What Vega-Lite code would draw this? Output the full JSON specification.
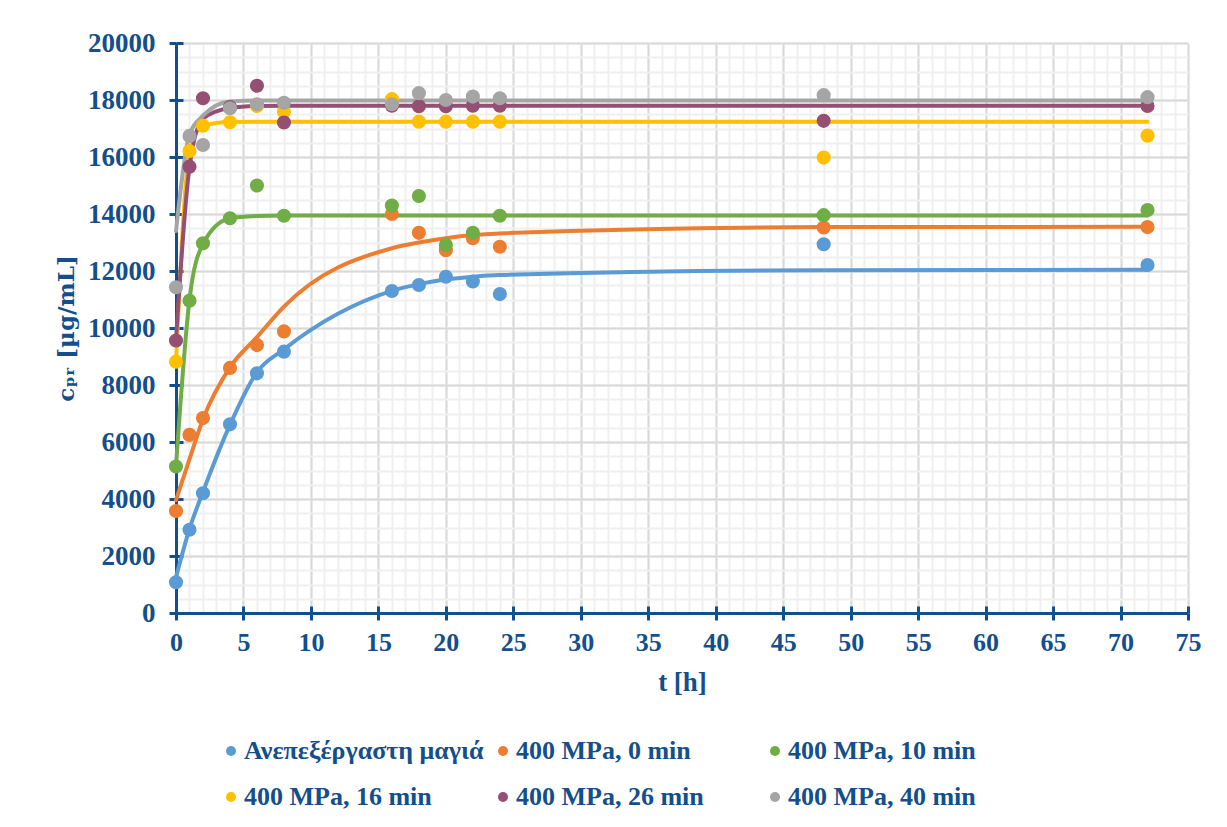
{
  "$schema": "https://vega.github.io/schema/vega-lite/v6.json",
  "width": 1012,
  "height": 570,
  "autosize": {"type": "none"},
  "padding": {"left": 176, "top": 43, "right": 39, "bottom": 214},
  "background": "white",
  "config": {"view": {"stroke": null}, "font": "Liberation Serif"},
  "datasets": {
    "obs": [
      {"s": "Ανεπεξέργαστη μαγιά", "t": 0, "c": 1080}, {"s": "Ανεπεξέργαστη μαγιά", "t": 1, "c": 2920}, {"s": "Ανεπεξέργαστη μαγιά", "t": 2, "c": 4200}, {"s": "Ανεπεξέργαστη μαγιά", "t": 4, "c": 6620}, {"s": "Ανεπεξέργαστη μαγιά", "t": 6, "c": 8410}, {"s": "Ανεπεξέργαστη μαγιά", "t": 8, "c": 9170}, {"s": "Ανεπεξέργαστη μαγιά", "t": 16, "c": 11300}, {"s": "Ανεπεξέργαστη μαγιά", "t": 18, "c": 11510}, {"s": "Ανεπεξέργαστη μαγιά", "t": 20, "c": 11800}, {"s": "Ανεπεξέργαστη μαγιά", "t": 22, "c": 11630}, {"s": "Ανεπεξέργαστη μαγιά", "t": 24, "c": 11190}, {"s": "Ανεπεξέργαστη μαγιά", "t": 48, "c": 12940}, {"s": "Ανεπεξέργαστη μαγιά", "t": 72, "c": 12210},
      {"s": "400 MPa, 0 min", "t": 0, "c": 3580}, {"s": "400 MPa, 0 min", "t": 1, "c": 6250}, {"s": "400 MPa, 0 min", "t": 2, "c": 6840}, {"s": "400 MPa, 0 min", "t": 4, "c": 8600}, {"s": "400 MPa, 0 min", "t": 6, "c": 9400}, {"s": "400 MPa, 0 min", "t": 8, "c": 9880}, {"s": "400 MPa, 0 min", "t": 16, "c": 14000}, {"s": "400 MPa, 0 min", "t": 18, "c": 13340}, {"s": "400 MPa, 0 min", "t": 20, "c": 12730}, {"s": "400 MPa, 0 min", "t": 22, "c": 13150}, {"s": "400 MPa, 0 min", "t": 24, "c": 12850}, {"s": "400 MPa, 0 min", "t": 48, "c": 13530}, {"s": "400 MPa, 0 min", "t": 72, "c": 13540},
      {"s": "400 MPa, 10 min", "t": 0, "c": 5140}, {"s": "400 MPa, 10 min", "t": 1, "c": 10960}, {"s": "400 MPa, 10 min", "t": 2, "c": 12970}, {"s": "400 MPa, 10 min", "t": 4, "c": 13850}, {"s": "400 MPa, 10 min", "t": 6, "c": 15000}, {"s": "400 MPa, 10 min", "t": 8, "c": 13940}, {"s": "400 MPa, 10 min", "t": 16, "c": 14300}, {"s": "400 MPa, 10 min", "t": 18, "c": 14630}, {"s": "400 MPa, 10 min", "t": 20, "c": 12910}, {"s": "400 MPa, 10 min", "t": 22, "c": 13340}, {"s": "400 MPa, 10 min", "t": 24, "c": 13940}, {"s": "400 MPa, 10 min", "t": 48, "c": 13960}, {"s": "400 MPa, 10 min", "t": 72, "c": 14140},
      {"s": "400 MPa, 16 min", "t": 0, "c": 8820}, {"s": "400 MPa, 16 min", "t": 1, "c": 16210}, {"s": "400 MPa, 16 min", "t": 2, "c": 17100}, {"s": "400 MPa, 16 min", "t": 4, "c": 17220}, {"s": "400 MPa, 16 min", "t": 6, "c": 17790}, {"s": "400 MPa, 16 min", "t": 8, "c": 17590}, {"s": "400 MPa, 16 min", "t": 16, "c": 18030}, {"s": "400 MPa, 16 min", "t": 18, "c": 17240}, {"s": "400 MPa, 16 min", "t": 20, "c": 17240}, {"s": "400 MPa, 16 min", "t": 22, "c": 17240}, {"s": "400 MPa, 16 min", "t": 24, "c": 17240}, {"s": "400 MPa, 16 min", "t": 48, "c": 15980}, {"s": "400 MPa, 16 min", "t": 72, "c": 16750},
      {"s": "400 MPa, 26 min", "t": 0, "c": 9560}, {"s": "400 MPa, 26 min", "t": 1, "c": 15660}, {"s": "400 MPa, 26 min", "t": 2, "c": 18060}, {"s": "400 MPa, 26 min", "t": 4, "c": 17750}, {"s": "400 MPa, 26 min", "t": 6, "c": 18500}, {"s": "400 MPa, 26 min", "t": 8, "c": 17210}, {"s": "400 MPa, 26 min", "t": 16, "c": 17800}, {"s": "400 MPa, 26 min", "t": 18, "c": 17780}, {"s": "400 MPa, 26 min", "t": 20, "c": 17780}, {"s": "400 MPa, 26 min", "t": 22, "c": 17800}, {"s": "400 MPa, 26 min", "t": 24, "c": 17800}, {"s": "400 MPa, 26 min", "t": 48, "c": 17270}, {"s": "400 MPa, 26 min", "t": 72, "c": 17790},
      {"s": "400 MPa, 40 min", "t": 0, "c": 11430}, {"s": "400 MPa, 40 min", "t": 1, "c": 16740}, {"s": "400 MPa, 40 min", "t": 2, "c": 16420}, {"s": "400 MPa, 40 min", "t": 4, "c": 17710}, {"s": "400 MPa, 40 min", "t": 6, "c": 17850}, {"s": "400 MPa, 40 min", "t": 8, "c": 17900}, {"s": "400 MPa, 40 min", "t": 16, "c": 17850}, {"s": "400 MPa, 40 min", "t": 18, "c": 18240}, {"s": "400 MPa, 40 min", "t": 20, "c": 18000}, {"s": "400 MPa, 40 min", "t": 22, "c": 18120}, {"s": "400 MPa, 40 min", "t": 24, "c": 18060}, {"s": "400 MPa, 40 min", "t": 48, "c": 18170}, {"s": "400 MPa, 40 min", "t": 72, "c": 18100}
    ],
    "fit": [
      {"s": "Ανεπεξέργαστη μαγιά", "t": 0, "c": 1250}, {"s": "Ανεπεξέργαστη μαγιά", "t": 1, "c": 2950}, {"s": "Ανεπεξέργαστη μαγιά", "t": 2, "c": 4250}, {"s": "Ανεπεξέργαστη μαγιά", "t": 4, "c": 6600}, {"s": "Ανεπεξέργαστη μαγιά", "t": 6, "c": 8450}, {"s": "Ανεπεξέργαστη μαγιά", "t": 8, "c": 9250}, {"s": "Ανεπεξέργαστη μαγιά", "t": 16, "c": 11300}, {"s": "Ανεπεξέργαστη μαγιά", "t": 18, "c": 11540}, {"s": "Ανεπεξέργαστη μαγιά", "t": 20, "c": 11700}, {"s": "Ανεπεξέργαστη μαγιά", "t": 22, "c": 11800}, {"s": "Ανεπεξέργαστη μαγιά", "t": 24, "c": 11860}, {"s": "Ανεπεξέργαστη μαγιά", "t": 48, "c": 12030}, {"s": "Ανεπεξέργαστη μαγιά", "t": 72, "c": 12040},
      {"s": "400 MPa, 0 min", "t": 0, "c": 3960}, {"s": "400 MPa, 0 min", "t": 1, "c": 5400}, {"s": "400 MPa, 0 min", "t": 2, "c": 6800}, {"s": "400 MPa, 0 min", "t": 4, "c": 8620}, {"s": "400 MPa, 0 min", "t": 6, "c": 9680}, {"s": "400 MPa, 0 min", "t": 8, "c": 10750}, {"s": "400 MPa, 0 min", "t": 16, "c": 12800}, {"s": "400 MPa, 0 min", "t": 18, "c": 13000}, {"s": "400 MPa, 0 min", "t": 20, "c": 13150}, {"s": "400 MPa, 0 min", "t": 22, "c": 13260}, {"s": "400 MPa, 0 min", "t": 24, "c": 13320}, {"s": "400 MPa, 0 min", "t": 48, "c": 13540}, {"s": "400 MPa, 0 min", "t": 72, "c": 13550},
      {"s": "400 MPa, 10 min", "t": 0, "c": 5150}, {"s": "400 MPa, 10 min", "t": 1, "c": 11000}, {"s": "400 MPa, 10 min", "t": 2, "c": 12950}, {"s": "400 MPa, 10 min", "t": 4, "c": 13850}, {"s": "400 MPa, 10 min", "t": 6, "c": 13930}, {"s": "400 MPa, 10 min", "t": 8, "c": 13950}, {"s": "400 MPa, 10 min", "t": 16, "c": 13950}, {"s": "400 MPa, 10 min", "t": 18, "c": 13950}, {"s": "400 MPa, 10 min", "t": 20, "c": 13950}, {"s": "400 MPa, 10 min", "t": 22, "c": 13950}, {"s": "400 MPa, 10 min", "t": 24, "c": 13950}, {"s": "400 MPa, 10 min", "t": 48, "c": 13950}, {"s": "400 MPa, 10 min", "t": 72, "c": 13950},
      {"s": "400 MPa, 16 min", "t": 0, "c": 8800}, {"s": "400 MPa, 16 min", "t": 1, "c": 16150}, {"s": "400 MPa, 16 min", "t": 2, "c": 17100}, {"s": "400 MPa, 16 min", "t": 4, "c": 17230}, {"s": "400 MPa, 16 min", "t": 6, "c": 17240}, {"s": "400 MPa, 16 min", "t": 8, "c": 17240}, {"s": "400 MPa, 16 min", "t": 16, "c": 17240}, {"s": "400 MPa, 16 min", "t": 18, "c": 17240}, {"s": "400 MPa, 16 min", "t": 20, "c": 17240}, {"s": "400 MPa, 16 min", "t": 22, "c": 17240}, {"s": "400 MPa, 16 min", "t": 24, "c": 17240}, {"s": "400 MPa, 16 min", "t": 48, "c": 17240}, {"s": "400 MPa, 16 min", "t": 72, "c": 17240},
      {"s": "400 MPa, 26 min", "t": 0, "c": 9600}, {"s": "400 MPa, 26 min", "t": 1, "c": 15650}, {"s": "400 MPa, 26 min", "t": 2, "c": 17350}, {"s": "400 MPa, 26 min", "t": 4, "c": 17720}, {"s": "400 MPa, 26 min", "t": 6, "c": 17790}, {"s": "400 MPa, 26 min", "t": 8, "c": 17800}, {"s": "400 MPa, 26 min", "t": 16, "c": 17800}, {"s": "400 MPa, 26 min", "t": 18, "c": 17800}, {"s": "400 MPa, 26 min", "t": 20, "c": 17800}, {"s": "400 MPa, 26 min", "t": 22, "c": 17800}, {"s": "400 MPa, 26 min", "t": 24, "c": 17800}, {"s": "400 MPa, 26 min", "t": 48, "c": 17800}, {"s": "400 MPa, 26 min", "t": 72, "c": 17800},
      {"s": "400 MPa, 40 min", "t": 0, "c": 13400}, {"s": "400 MPa, 40 min", "t": 1, "c": 16800}, {"s": "400 MPa, 40 min", "t": 2, "c": 17450}, {"s": "400 MPa, 40 min", "t": 4, "c": 17950}, {"s": "400 MPa, 40 min", "t": 6, "c": 17980}, {"s": "400 MPa, 40 min", "t": 8, "c": 17980}, {"s": "400 MPa, 40 min", "t": 16, "c": 17980}, {"s": "400 MPa, 40 min", "t": 18, "c": 17980}, {"s": "400 MPa, 40 min", "t": 20, "c": 17980}, {"s": "400 MPa, 40 min", "t": 22, "c": 17980}, {"s": "400 MPa, 40 min", "t": 24, "c": 17980}, {"s": "400 MPa, 40 min", "t": 48, "c": 17980}, {"s": "400 MPa, 40 min", "t": 72, "c": 17980}
    ]
  },
  "layer": [
    {
      "data": {"name": "fit"},
      "mark": {"type": "line", "strokeWidth": 4, "interpolate": "monotone", "strokeCap": "round", "strokeJoin": "round"},
      "encoding": {
        "x": {
          "field": "t", "type": "quantitative",
          "scale": {"domain": [0, 75], "nice": false, "zero": false},
          "axis": {
            "orient": "bottom", "title": null, "labels": false, "domain": false,
            "values": [0,1,2,3,4,5,6,7,8,9,10,11,12,13,14,15,16,17,18,19,20,21,22,23,24,25,26,27,28,29,30,31,32,33,34,35,36,37,38,39,40,41,42,43,44,45,46,47,48,49,50,51,52,53,54,55,56,57,58,59,60,61,62,63,64,65,66,67,68,69,70,71,72,73,74,75],
            "grid": true, "gridColor": "#f0f0f0", "gridWidth": 2,
            "ticks": true, "tickSize": -7, "tickWidth": 3, "tickColor": "#134e8d",
            "tickOpacity": {"condition": {"test": "datum.value % 5 === 0", "value": 1}, "value": 0}
          }
        },
        "y": {
          "field": "c", "type": "quantitative",
          "scale": {"domain": [0, 20000], "nice": false},
          "axis": {
            "orient": "left", "title": null, "labels": false, "domain": false,
            "values": [0,500,1000,1500,2000,2500,3000,3500,4000,4500,5000,5500,6000,6500,7000,7500,8000,8500,9000,9500,10000,10500,11000,11500,12000,12500,13000,13500,14000,14500,15000,15500,16000,16500,17000,17500,18000,18500,19000,19500,20000],
            "grid": true, "gridColor": "#f0f0f0", "gridWidth": 2,
            "ticks": true, "tickSize": -7, "tickWidth": 3, "tickColor": "#134e8d",
            "tickOpacity": {"condition": {"test": "datum.value % 2000 === 0", "value": 1}, "value": 0}
          }
        },
        "color": {
          "field": "s", "type": "nominal",
          "scale": {
            "domain": ["Ανεπεξέργαστη μαγιά", "400 MPa, 0 min", "400 MPa, 10 min", "400 MPa, 16 min", "400 MPa, 26 min", "400 MPa, 40 min"],
            "range": ["#5b9bd5", "#ed7d31", "#70ad47", "#ffc000", "#954f72", "#a5a5a5"]
          },
          "legend": null
        }
      }
    },
    {
      "data": {"name": "obs"},
      "mark": {"type": "circle", "size": 200, "opacity": 1},
      "encoding": {
        "x": {
          "field": "t", "type": "quantitative",
          "scale": {"domain": [0, 75], "nice": false, "zero": false},
          "axis": {
            "orient": "bottom", "values": [0,5,10,15,20,25,30,35,40,45,50,55,60,65,70,75], "format": "d",
            "grid": true, "gridColor": "#d9d9d9", "gridWidth": 2,
            "domainColor": "#134e8d", "domainWidth": 3,
            "tickColor": "#134e8d", "tickWidth": 3, "tickSize": 7,
            "labelFont": "Liberation Serif", "labelFontWeight": "bold", "labelFontSize": 26, "labelColor": "#134e8d",
            "labelPadding": 9, "labelFlush": false, "labelOverlap": false,
            "title": "t [h]", "titleFont": "Liberation Serif", "titleFontWeight": "bold", "titleFontSize": 27, "titleColor": "#134e8d", "titlePadding": 14
          }
        },
        "y": {
          "field": "c", "type": "quantitative",
          "scale": {"domain": [0, 20000], "nice": false},
          "axis": {
            "orient": "left", "values": [0,2000,4000,6000,8000,10000,12000,14000,16000,18000,20000], "format": "d",
            "grid": true, "gridColor": "#d9d9d9", "gridWidth": 2,
            "domainColor": "#134e8d", "domainWidth": 3,
            "tickColor": "#134e8d", "tickWidth": 3, "tickSize": 7,
            "labelFont": "Liberation Serif", "labelFontWeight": "bold", "labelFontSize": 27, "labelColor": "#134e8d",
            "labelPadding": 14, "labelFlush": false, "labelOverlap": false,
            "title": "cₚᵣ [µg/mL]", "titleFont": "DejaVu Serif", "titleFontWeight": "bold", "titleFontSize": 23, "titleColor": "#134e8d", "titlePadding": 9
          }
        },
        "color": {
          "field": "s", "type": "nominal",
          "scale": {
            "domain": ["Ανεπεξέργαστη μαγιά", "400 MPa, 0 min", "400 MPa, 10 min", "400 MPa, 16 min", "400 MPa, 26 min", "400 MPa, 40 min"],
            "range": ["#5b9bd5", "#ed7d31", "#70ad47", "#ffc000", "#954f72", "#a5a5a5"]
          },
          "legend": {
            "orient": "none", "legendX": 42, "legendY": 695, "direction": "horizontal",
            "columns": 3, "gridAlign": "all", "title": null,
            "symbolType": "circle", "symbolSize": 100, "symbolOpacity": 1, "symbolStrokeWidth": 0,
            "labelFont": "Liberation Serif", "labelFontWeight": "bold", "labelFontSize": 26, "labelColor": "#134e8d",
            "labelOffset": 0, "labelLimit": 400, "columnPadding": 6, "rowPadding": 20, "padding": 0
          }
        }
      }
    }
  ],
  "resolve": {
    "axis": {"x": "independent", "y": "independent"},
    "scale": {"color": "independent"},
    "legend": {"color": "independent"}
  }
}
